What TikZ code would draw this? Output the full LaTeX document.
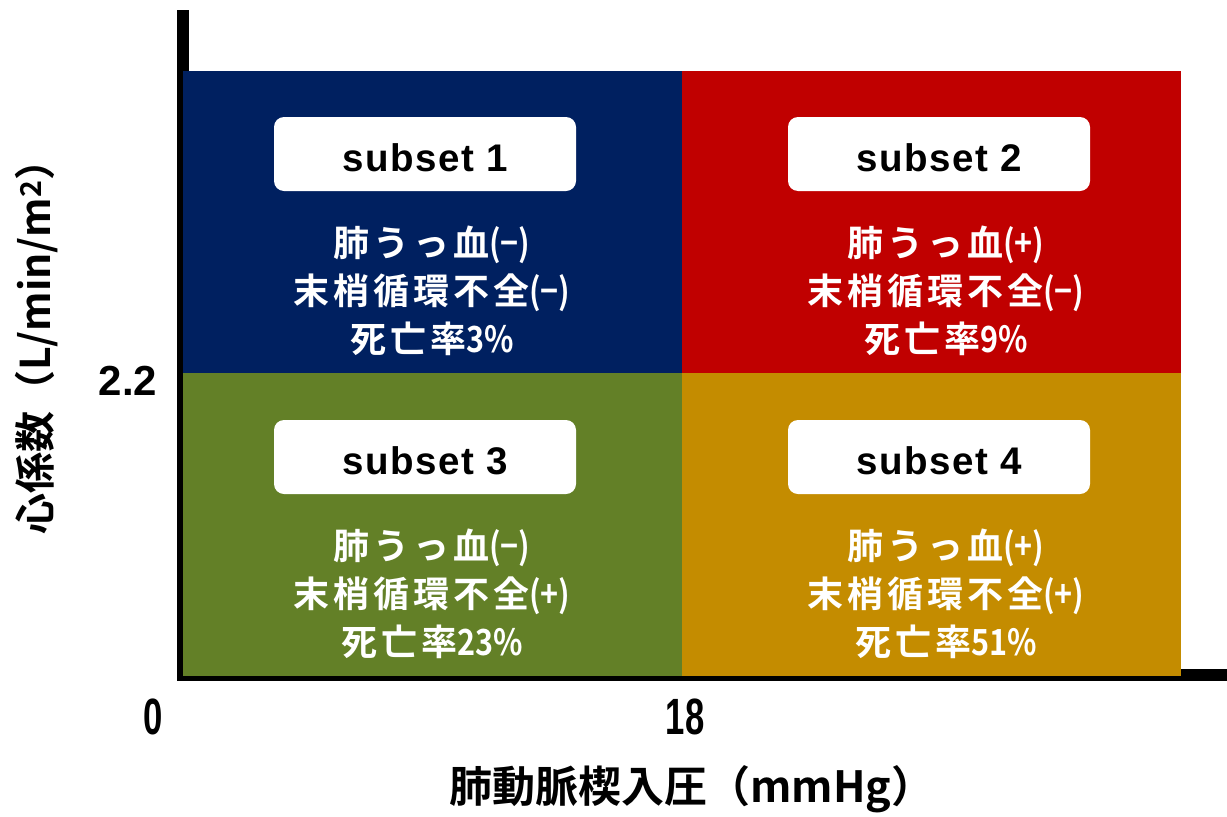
\documentclass[tikz,border=0pt]{standalone}
\usepackage{fontspec}
\newfontfamily\cjkb{Noto Sans CJK JP Bold}
\newfontfamily\cjkbsp[LetterSpace=11]{Noto Sans CJK JP Bold}
\newfontfamily\arialb{Liberation Sans Bold}
\newfontfamily\arialbsp[LetterSpace=4]{Liberation Sans Bold}
\newcommand{\lt}[1]{{\cjkb\scalebox{0.85}[1]{#1}}}
\definecolor{qblue}{RGB}{0,32,96}
\definecolor{qred}{RGB}{192,0,0}
\definecolor{qgreen}{RGB}{99,128,39}
\definecolor{qgold}{RGB}{196,140,0}
\tikzset{
  tag/.style={fill=white, rounded corners=10pt, minimum width=302pt, minimum height=74pt, inner sep=0pt},
  tagtext/.style={inner sep=0pt, font=\arialbsp\fontsize{38.5}{40}\selectfont},
  info/.style={text=white, align=center, inner sep=0pt,
    font=\cjkbsp\fontsize{36}{48}\selectfont},
  axlab/.style={inner sep=0pt, font=\cjkb\fontsize{43}{44}\selectfont},
  tick/.style={inner sep=0pt}
}
\begin{document}
\begin{tikzpicture}[x=1pt,y=-1pt]
\useasboundingbox (0,0) rectangle (1227,817);
% axes
\fill[black] (177,10) rectangle (189,681);
\fill[black] (177,669) rectangle (1227,681);
% quadrants
\fill[qblue] (183,71) rectangle (682,373);
\fill[qred] (682,71) rectangle (1181,373);
\fill[qgreen] (183,373) rectangle (682,676);
\fill[qgold] (682,373) rectangle (1181,676);
% tags
\node[tag] (s1) at (425,154) {};
\node[tag] (s2) at (939,154) {};
\node[tag] (s3) at (425,457) {};
\node[tag] (s4) at (939,457) {};
\node[tagtext] (t1) at (425,158) {subset 1};
\node[tagtext] (t2) at (939,158) {subset 2};
\node[tagtext] (t3) at (425,461) {subset 3};
\node[tagtext] (t4) at (939,461) {subset 4};
% info
\node[info] (i1) at (432,291) {肺うっ血\lt{(−)}\\末梢循環不全\lt{(−)}\\死亡率\lt{3\%}};
\node[info] (i2) at (946,291) {肺うっ血\lt{(+)}\\末梢循環不全\lt{(−)}\\死亡率\lt{9\%}};
\node[info] (i3) at (432,594) {肺うっ血\lt{(−)}\\末梢循環不全\lt{(+)}\\死亡率\lt{23\%}};
\node[info] (i4) at (946,594) {肺うっ血\lt{(+)}\\末梢循環不全\lt{(+)}\\死亡率\lt{51\%}};
% tick labels
\node[tick, font=\arialb\fontsize{42}{44}\selectfont] (y22) at (128,381) {2.2};
\node[tick, font=\arialb\fontsize{51}{52}\selectfont] (x0) at (153,717) {\scalebox{0.68}[1]{0}};
\node[tick, font=\arialb\fontsize{51}{52}\selectfont] (x18) at (685,717) {\scalebox{0.68}[1]{18}};
% axis labels
\node[axlab] (xl) at (692,789) {肺動脈楔入圧（mmHg）};
\node[axlab, rotate=90, font=\cjkb\fontsize{41}{44}\selectfont] (yl) at (37,337) {心係数（L/min/m\textsuperscript{2}）};
\end{tikzpicture}
\end{document}
